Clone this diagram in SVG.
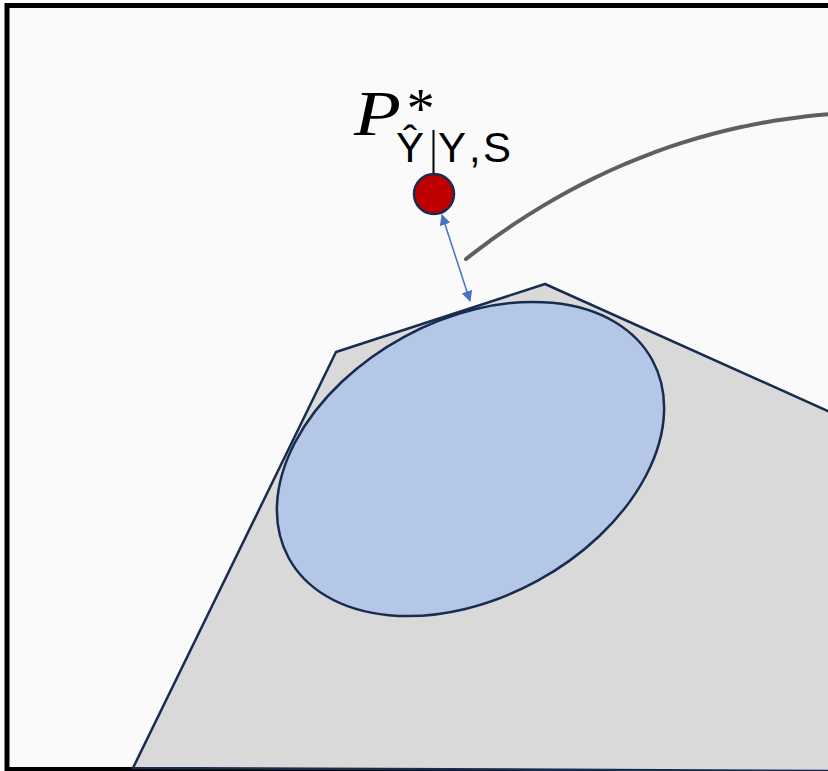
<svg xmlns="http://www.w3.org/2000/svg" width="828" height="771" viewBox="0 0 828 771">
<style>
.shape{stroke:#172c4f;stroke-width:2.5;stroke-linejoin:round}
.lbl{font-family:"Liberation Sans",Arial,sans-serif;font-size:42px;fill:#000}
.math{font-family:"Liberation Serif","Times New Roman",serif;font-style:italic;fill:#000}
</style>
<defs>
<marker id="ah" viewBox="0 0 10 10" refX="9" refY="5" markerWidth="11" markerHeight="11" markerUnits="userSpaceOnUse" orient="auto-start-reverse">
<path d="M0,0 L10,5 L0,10 z" fill="#4472c4"/>
</marker>
</defs>
<rect x="0" y="0" width="828" height="771" fill="#ffffff"/>
<rect x="7" y="5.5" width="900" height="764" fill="#fafafa" stroke="#000" stroke-width="5"/>
<g id="region">
<polygon class="shape" points="133,768 336,352 545,284 830,412 830,771 133,768" fill="#d9d9d9"/>
</g>
<g id="ellipse">
<ellipse class="shape" cx="470.5" cy="459" rx="207" ry="139" transform="rotate(-28.5 470.5 459)" fill="#b4c7e7"/>
</g>
<g id="curve">
<path d="M466,259 Q630,130 830,114" fill="none" stroke="#5f5f5f" stroke-width="4" stroke-linecap="round" stroke-dasharray="30 1"/>
</g>
<g id="point">
<line x1="433.5" y1="130" x2="433.5" y2="176" stroke="#000" stroke-width="2"/>
<circle cx="434" cy="194" r="20" fill="#c00000" stroke="#172c4f" stroke-width="2.5"/>
<text class="math" x="354" y="135" font-size="64" transform="translate(354 0) scale(1.2 1) translate(-354 0)">P</text>
<text class="math" x="404" y="128" font-size="56" font-style="normal">*</text>
<text class="lbl" x="396" y="162"><tspan x="396">Ŷ</tspan><tspan x="428" fill="none">|</tspan><tspan x="438">Y</tspan><tspan x="469">,</tspan><tspan x="483">S</tspan></text>
</g>
<g id="connectors">
<line x1="442" y1="215" x2="470" y2="301" stroke="#4472c4" stroke-width="1.5" marker-start="url(#ah)" marker-end="url(#ah)"/>
</g>
</svg>
